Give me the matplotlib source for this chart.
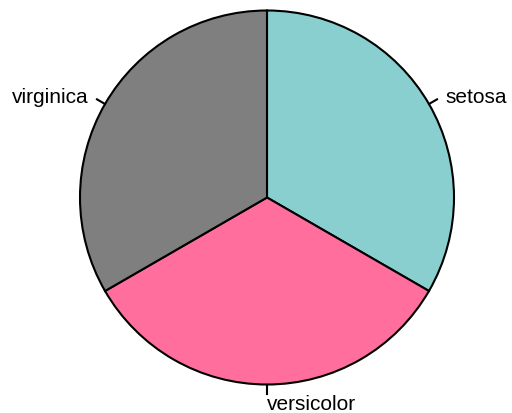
import numpy as np
import matplotlib
matplotlib.use("Agg")
import matplotlib.pyplot as plt

species = ["setosa", "versicolor", "virginica"]
counts = [50, 50, 50]
colors = ["#8ACFCF", "#FF6E9C", "#7F7F7F"]

fig = plt.figure(figsize=(5.12, 4.14), dpi=100)
ax = fig.add_axes([0, 0, 1, 1])

cx, cy, r = 267, 215.5, 187
wedges, _ = ax.pie(counts, colors=colors, startangle=90, counterclock=False,
                   center=(cx, cy), radius=r, frame=True,
                   wedgeprops=dict(edgecolor="black", linewidth=1.5))
ax.set_xlim(0, 512)
ax.set_ylim(0, 414)
ax.set_aspect("equal")
ax.axis("off")

for w, lab in zip(wedges, species):
    mid = np.deg2rad((w.theta1 + w.theta2) / 2)
    c, s = np.cos(mid), np.sin(mid)
    ax.plot([cx + r * c, cx + 1.05 * r * c], [cy + r * s, cy + 1.05 * r * s],
            color="black", linewidth=1.5)
    ha = "right" if c < -1e-3 else "left"
    dy = -2 if s > 0 else 0
    ax.text(cx + 1.1 * r * c, cy + 1.1 * r * s + dy, lab, ha=ha, va="center",
            fontsize=15, family="Liberation Sans")

fig.savefig("out.png", dpi=100)
